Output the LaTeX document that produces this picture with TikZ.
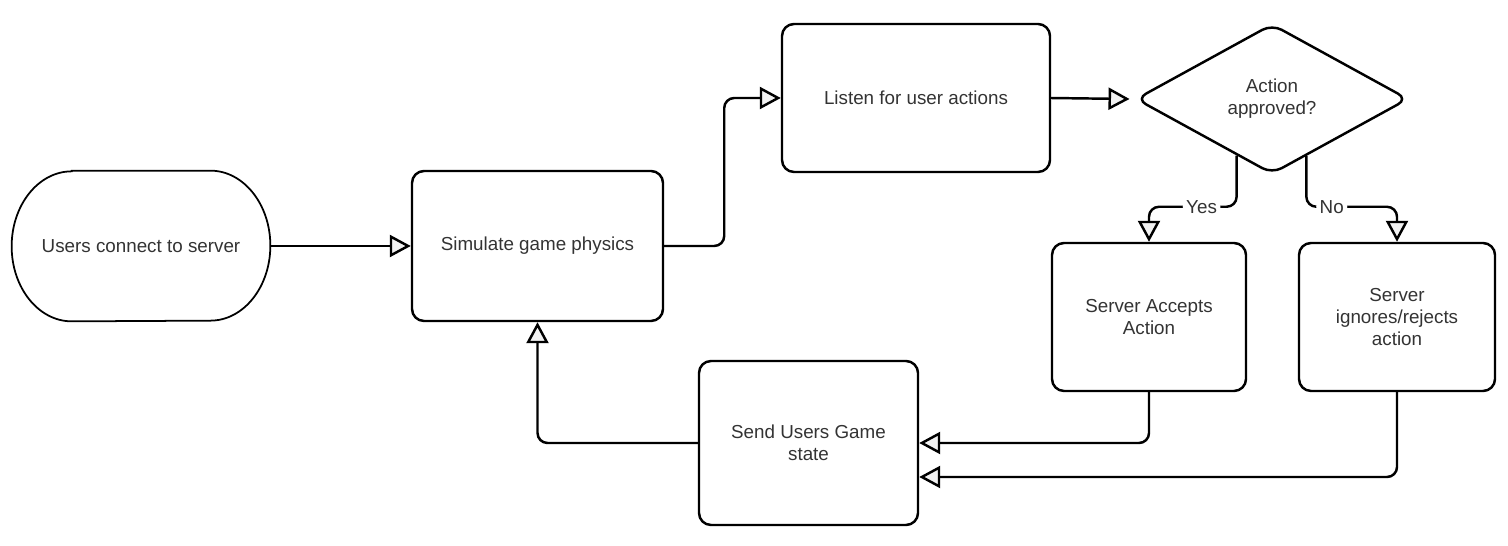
\documentclass[tikz,border=0pt]{standalone}
\usepackage{fontspec}
\setmainfont{Liberation Sans}
\usetikzlibrary{arrows.meta,shapes.geometric,calc}
\begin{document}
\begin{tikzpicture}[
  font=\fontsize{10.7}{12.6}\selectfont, text=black!80,
  box/.style={draw, line width=1.4pt, rounded corners=0.24cm, align=center, inner sep=0pt},
  flow/.style={line width=1.4pt, rounded corners=0.2cm, -{Triangle[length=0.42cm, width=0.44cm, fill=gray!10]}},
  lab/.style={fill=white, inner sep=2pt}]
\useasboundingbox (0,0) rectangle (30.16,-10.92);
% Knoten
\node[align=center, minimum width=5.16cm, minimum height=3cm] (users) at (2.82,-4.92) {Users connect to server};
\node[box, minimum width=5.02cm, minimum height=3cm] (sim) at (10.75,-4.92) {Simulate game physics};
\node[box, minimum width=5.36cm, minimum height=2.96cm] (listen) at (18.32,-1.96) {Listen for user actions};
\node[box, diamond, minimum width=5.45cm, minimum height=3cm, rounded corners=0.22cm] (dec) at (25.44,-1.98) {Action\\approved?};
\node[box, minimum width=3.88cm, minimum height=2.96cm] (acc) at (22.98,-6.34) {Server Accepts\\Action};
\node[box, minimum width=3.92cm, minimum height=2.96cm] (rej) at (27.94,-6.34) {Server\\ignores/rejects\\action};
\node[box, minimum width=4.38cm, minimum height=3.28cm] (send) at (16.17,-8.86) {Send Users Game\\state};
% Start-Symbol
\draw[line width=1pt] ([xshift=1.2cm]users.north west) -- ([xshift=-1.2cm]users.north east)
  arc[start angle=90, end angle=-90, x radius=1.2cm, y radius=1.5cm]
  -- ([xshift=1.2cm]users.south west)
  arc[start angle=270, end angle=90, x radius=1.2cm, y radius=1.5cm] -- cycle;
% Pfeile
\draw[flow] (users.east) -- (sim.west);
\draw[flow] (sim.east) -- ++(1.2,0) |- (listen.west);
\draw[flow] ([xshift=-0.02cm]listen.east) -- ([xshift=-0.1cm]dec.west);
\draw[flow] (dec.238.7) |- ($(acc.north)+(0,0.7)$) node[lab, pos=0.7] {Yes} -- (acc.north);
\draw[flow] (dec.301.3) |- ($(rej.north)+(0,0.7)$) node[lab, pos=0.64] {No} -- (rej.north);
\draw[flow] (acc.south) |- (send.east);
\draw[flow] (rej.south) |- ($(send.east)+(0,-0.68)$);
\draw[flow] (send.west) -| (sim.south);
\end{tikzpicture}
\end{document}
